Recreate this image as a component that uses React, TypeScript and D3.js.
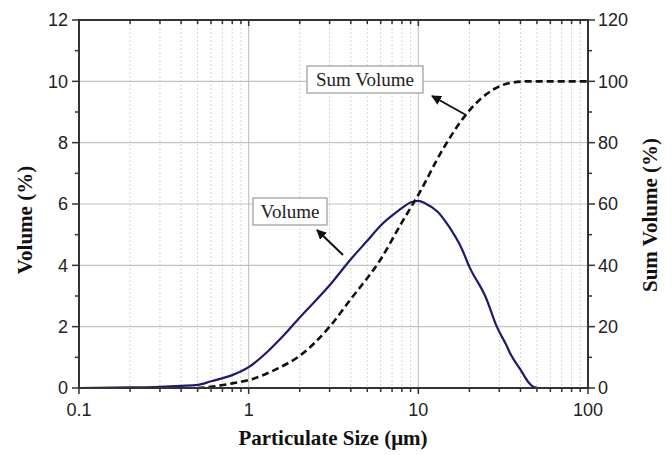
import React from 'react';
import * as d3 from 'd3';

// particle size (µm) and volume (%)
const volSize = [0.1, 0.2, 0.3, 0.4, 0.5, 0.6, 0.8, 1, 1.3, 1.6, 2, 3, 4, 5, 6, 7.5, 9, 10, 11, 13, 15, 18, 20, 25, 29, 33, 35, 40, 45, 48, 52, 70, 100];
const volValue = [0, 0.02, 0.04, 0.07, 0.1, 0.22, 0.42, 0.68, 1.2, 1.7, 2.3, 3.35, 4.2, 4.8, 5.3, 5.75, 6.05, 6.1, 6.02, 5.75, 5.3, 4.55, 3.95, 2.95, 2.0, 1.4, 1.1, 0.6, 0.16, 0.03, 0, 0, 0];

// particle size (µm) and cumulative volume (%)
const sumSize = [0.5, 0.6, 0.8, 1, 1.5, 2, 3, 4, 6, 8, 10, 14, 19, 23, 28, 35, 45, 60, 100];
const sumValue = [0, 0.4, 1.5, 2.6, 6.5, 10.5, 20, 29, 42, 54, 63, 78, 89, 94, 97.5, 99.5, 100, 100, 100];

const xMajor = [0.1, 1, 10, 100];
const xLabels = ['0.1', '1', '10', '100'];
const yLeftTicks = [0, 2, 4, 6, 8, 10, 12];
const yRightTicks = [0, 20, 40, 60, 80, 100, 120];

const W = 672;
const H = 455;
const m = { left: 79, right: 588, top: 20, bottom: 388 };

export default function App() {
  const x = d3.scaleLog().domain([0.1, 100]).range([m.left, m.right]);
  const y = d3.scaleLinear().domain([0, 12]).range([m.bottom, m.top]);
  const y2 = d3.scaleLinear().domain([0, 120]).range([m.bottom, m.top]);

  const minor: number[] = [];
  [0.1, 1, 10].forEach((d) => {
    for (let k = 2; k <= 9; k++) minor.push(d * k);
  });
  const yMinor = [1, 3, 5, 7, 9, 11];

  const volLine = d3
    .line<number>()
    .x((_, i) => x(volSize[i]))
    .y((d) => y(d))
    .curve(d3.curveMonotoneX)(volValue);

  const sumLine = d3
    .line<number>()
    .x((_, i) => x(sumSize[i]))
    .y((d) => y2(d))
    .curve(d3.curveMonotoneX)(sumValue);

  const tickFont = { fontFamily: 'Liberation Sans, Arial, sans-serif', fontSize: 18, fill: '#222' };
  const titleFont = { fontFamily: 'Liberation Serif, Times New Roman, serif', fontSize: 21, fontWeight: 700, fill: '#111' };
  const labelFont = { fontFamily: 'Liberation Serif, Times New Roman, serif', fontSize: 19, fill: '#222' };

  return (
    <svg width={W} height={H} style={{ position: 'absolute', left: 0, top: 0, background: '#fff' }}>
      <defs>
        <marker id="arr" viewBox="0 0 10 10" refX="9" refY="5" markerWidth="5" markerHeight="5" orient="auto">
          <path d="M0,0 L10,5 L0,10 z" fill="#111" />
        </marker>
      </defs>
      {/* minor vertical grid */}
      {minor.map((d) => (
        <line key={'mg' + d} x1={x(d)} x2={x(d)} y1={m.top} y2={m.bottom} stroke="#d4d4d4" strokeWidth={1} strokeDasharray="2,2" />
      ))}
      {/* major grid */}
      {[1, 10].map((d) => (
        <line key={'xg' + d} x1={x(d)} x2={x(d)} y1={m.top} y2={m.bottom} stroke="#c4c4c4" strokeWidth={1.2} />
      ))}
      {yLeftTicks.slice(1, -1).map((d) => (
        <line key={'yg' + d} x1={m.left} x2={m.right} y1={y(d)} y2={y(d)} stroke="#c4c4c4" strokeWidth={1.2} />
      ))}

      {/* curves */}
      <path d={volLine || ''} fill="none" stroke="#1c1c6a" strokeWidth={2.2} />
      <path d={sumLine || ''} fill="none" stroke="#111" strokeWidth={2.6} strokeDasharray="7,4" />

      {/* frame */}
      <rect x={m.left} y={m.top} width={m.right - m.left} height={m.bottom - m.top} fill="none" stroke="#333" strokeWidth={2} />

      {/* x ticks */}
      {xMajor.map((d, i) => (
        <g key={'xt' + d}>
          <line x1={x(d)} x2={x(d)} y1={m.bottom} y2={m.bottom + 6} stroke="#333" strokeWidth={1.5} />
          <line x1={x(d)} x2={x(d)} y1={m.top} y2={m.top + 6} stroke="#333" strokeWidth={1.5} />
          <text x={x(d)} y={m.bottom + 28} textAnchor="middle" style={tickFont}>
            {xLabels[i]}
          </text>
        </g>
      ))}
      {minor.map((d) => (
        <g key={'xm' + d}>
          <line x1={x(d)} x2={x(d)} y1={m.bottom} y2={m.bottom + 4} stroke="#333" strokeWidth={1.5} />
          <line x1={x(d)} x2={x(d)} y1={m.top} y2={m.top + 4} stroke="#333" strokeWidth={1.5} />
        </g>
      ))}

      {/* left ticks */}
      {yLeftTicks.map((d) => (
        <g key={'yl' + d}>
          <line x1={m.left - 7} x2={m.left} y1={y(d)} y2={y(d)} stroke="#333" strokeWidth={1.5} />
          <text x={m.left - 11} y={y(d)} dy="0.35em" textAnchor="end" style={tickFont}>
            {d}
          </text>
        </g>
      ))}
      {yRightTicks.map((d) => (
        <g key={'yr' + d}>
          <line x1={m.right} x2={m.right + 7} y1={y2(d)} y2={y2(d)} stroke="#333" strokeWidth={1.5} />
          <text x={m.right + 10} y={y2(d)} dy="0.35em" textAnchor="start" style={tickFont}>
            {d}
          </text>
        </g>
      ))}
      {yMinor.map((d) => (
        <g key={'ym' + d}>
          <line x1={m.left - 4} x2={m.left} y1={y(d)} y2={y(d)} stroke="#333" strokeWidth={1.5} />
          <line x1={m.right} x2={m.right + 4} y1={y(d)} y2={y(d)} stroke="#333" strokeWidth={1.5} />
        </g>
      ))}

      {/* axis titles */}
      <text transform="translate(32,220) rotate(-90)" textAnchor="middle" style={titleFont}>
        Volume (%)
      </text>
      <text transform="translate(657,215) rotate(-90)" textAnchor="middle" style={titleFont}>
        Sum Volume (%)
      </text>
      <text x={333} y={445} textAnchor="middle" style={titleFont}>
        Particulate Size (μm)
      </text>

      {/* annotations */}
      <rect x={307} y={66} width={116} height={27} fill="#fff" stroke="#999" strokeWidth={1.2} />
      <text x={365} y={86} textAnchor="middle" style={labelFont}>
        Sum Volume
      </text>
      <line x1={466} y1={115} x2={432} y2={96} stroke="#111" strokeWidth={2} markerEnd="url(#arr)" />

      <rect x={253} y={198} width={74} height={27} fill="#fff" stroke="#999" strokeWidth={1.2} />
      <text x={290} y={218} textAnchor="middle" style={labelFont}>
        Volume
      </text>
      <line x1={343} y1={255} x2={317} y2={230} stroke="#111" strokeWidth={2} markerEnd="url(#arr)" />
    </svg>
  );
}
